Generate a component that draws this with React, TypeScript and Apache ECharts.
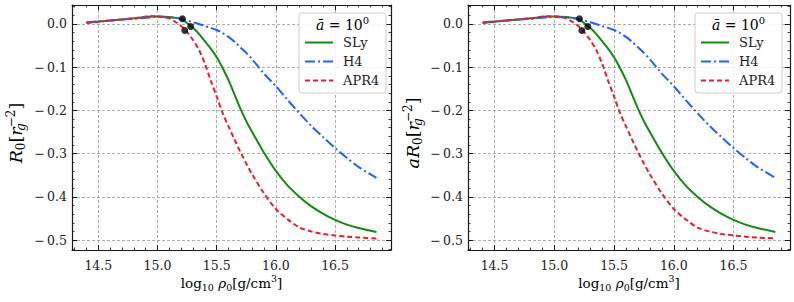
import React, { useEffect, useRef } from 'react';
import * as echarts from 'echarts';

// ---- data ----
const rho = [14.4, 14.6, 14.8, 14.95, 15.0, 15.1, 15.15, 15.2, 15.25, 15.3, 15.35, 15.4, 15.45, 15.5, 15.55, 15.6, 15.65, 15.7, 15.75, 15.8, 15.9, 16.0, 16.1, 16.2, 16.3, 16.4, 16.5, 16.6, 16.7, 16.85];
const slyR0 = [0.003, 0.008, 0.013, 0.017, 0.017, 0.016, 0.014, 0.011, 0.002, -0.009, -0.023, -0.040, -0.057, -0.077, -0.102, -0.130, -0.163, -0.196, -0.225, -0.250, -0.298, -0.340, -0.374, -0.400, -0.422, -0.439, -0.453, -0.464, -0.472, -0.481];
const h4R0 = [0.004, 0.008, 0.012, 0.015, 0.016, 0.015, 0.014, 0.012, 0.008, 0.004, 0.000, -0.005, -0.009, -0.014, -0.021, -0.030, -0.041, -0.054, -0.067, -0.082, -0.115, -0.144, -0.176, -0.207, -0.236, -0.262, -0.287, -0.310, -0.331, -0.356];
const apr4R0 = [0.002, 0.008, 0.013, 0.018, 0.018, 0.013, 0.005, -0.005, -0.019, -0.037, -0.060, -0.092, -0.131, -0.168, -0.206, -0.237, -0.267, -0.296, -0.323, -0.348, -0.392, -0.428, -0.452, -0.471, -0.480, -0.486, -0.489, -0.492, -0.494, -0.496];
const seriesNames = ['SLy', 'H4', 'APR4'];
const seriesValues = [slyR0, h4R0, apr4R0];
const markerRho = [15.28, 15.21, 15.23];
const markerR0 = [-0.006, 0.012, -0.015];
const yLabels = ['R', 'aR'];

const X_MIN = 14.2775;
const X_MAX = 16.9725;
const Y_MIN = -0.5228;
const Y_MAX = 0.0438;

const FONT = '"DejaVu Serif", serif';
const colors = ['#138a13', '#2462ff', '#e8202e'];
const dashes: any[] = ['solid', [10, 3, 2, 3], [5, 3]];
const FRAME = '#1a1a1a';
const TXT = '#222';

const fmtX = (v: number) => {
  const k = Math.round(v * 2);
  if (Math.abs(v * 2 - k) > 1e-6) return '';
  return (k / 2).toFixed(1);
};
const fmtY = (v: number) => {
  const k = Math.round(v * 10);
  if (Math.abs(v * 10 - k) > 1e-6) return '';
  const s = Math.abs(k / 10).toFixed(1);
  return k < 0 ? '\u2212\u2009' + s : s;
};

const makeRich = (fs: number, ss: number) => ({
  n: { fontFamily: FONT, fontSize: fs, lineHeight: fs + 5, color: TXT },
  it: { fontFamily: FONT, fontSize: fs, lineHeight: fs + 5, fontStyle: 'italic', color: TXT },
  sub: { fontFamily: FONT, fontSize: ss, lineHeight: ss + 1.5, verticalAlign: 'bottom', color: TXT },
  subit: { fontFamily: FONT, fontSize: ss, lineHeight: ss + 1.5, verticalAlign: 'bottom', fontStyle: 'italic', color: TXT, width: 0.1 },
  sup: { fontFamily: FONT, fontSize: ss, lineHeight: ss + 1.5, verticalAlign: 'top', color: TXT },
});
const richX = makeRich(13.5, 9.5);
const richY = makeRich(17.5, 12);
const richT = makeRich(14, 10);

export default function App() {
  const ref = useRef<HTMLDivElement>(null);
  useEffect(() => {
    const chart = echarts.init(ref.current!, undefined, { renderer: 'svg' });
    const panels = [
      { left: 72, right: 403, legendLeft: 304, boxX: 299, xLab: 231.5, yLab: 16 },
      { left: 468, right: 4, legendLeft: 700, boxX: 695, xLab: 629, yLab: 413 },
    ];
    const grid: any[] = [];
    const xAxis: any[] = [];
    const yAxis: any[] = [];
    const series: any[] = [];
    const legend: any[] = [];
    const graphic: any[] = [];

    panels.forEach((p, pi) => {
      grid.push({ left: p.left, right: p.right, top: 5, bottom: 52, containLabel: false });
      const major = { show: true, inside: true, length: 5, lineStyle: { color: FRAME, width: 1 } };
      const minor = { show: true, inside: true, length: 2.5, lineStyle: { color: FRAME, width: 0.8 } };
      const line = { show: true, onZero: false, lineStyle: { color: FRAME, width: 1.2 } };
      const noLine = { show: false, onZero: false };
      const common = { type: 'value', gridIndex: pi, min: X_MIN, max: X_MAX };
      xAxis.push({
        ...common, position: 'bottom', splitNumber: 5,
        axisLine: line, axisTick: major,
        axisLabel: { formatter: fmtX, fontFamily: FONT, fontSize: 12.5, color: TXT, margin: 9 },
        splitLine: { show: true, lineStyle: { color: '#999', width: 0.8, type: [3, 2] } },
      });
      xAxis.push({ ...common, position: 'bottom', splitNumber: 27, axisLine: noLine, axisTick: minor, axisLabel: { show: false }, splitLine: { show: false } });
      xAxis.push({ ...common, position: 'top', splitNumber: 5, axisLine: line, axisTick: major, axisLabel: { show: false }, splitLine: { show: false } });
      xAxis.push({ ...common, position: 'top', splitNumber: 27, axisLine: noLine, axisTick: minor, axisLabel: { show: false }, splitLine: { show: false } });

      const ycommon = { type: 'value', gridIndex: pi, min: Y_MIN, max: Y_MAX };
      yAxis.push({
        ...ycommon, position: 'left', splitNumber: 5,
        axisLine: line, axisTick: major,
        axisLabel: { formatter: fmtY, fontFamily: FONT, fontSize: 12.5, color: TXT, margin: 5 },
        splitLine: { show: true, lineStyle: { color: '#999', width: 0.8, type: [3, 2] } },
      });
      yAxis.push({ ...ycommon, position: 'left', splitNumber: 28, axisLine: noLine, axisTick: minor, axisLabel: { show: false }, splitLine: { show: false } });
      yAxis.push({ ...ycommon, position: 'right', splitNumber: 5, axisLine: line, axisTick: major, axisLabel: { show: false }, splitLine: { show: false } });
      yAxis.push({ ...ycommon, position: 'right', splitNumber: 28, axisLine: noLine, axisTick: minor, axisLabel: { show: false }, splitLine: { show: false } });

      seriesNames.forEach((name, si) => {
        series.push({
          type: 'line', name, xAxisIndex: pi * 4, yAxisIndex: pi * 4,
          data: rho.map((x, i) => [x, seriesValues[si][i]]),
          symbol: 'none', smooth: 0.3,
          lineStyle: { color: colors[si], width: 2, type: dashes[si] },
          itemStyle: { color: colors[si] },
          z: 3 + si,
        });
      });
      series.push({
        type: 'scatter', name: 'markers', xAxisIndex: pi * 4, yAxisIndex: pi * 4,
        data: markerRho.map((x, i) => [x, markerR0[i]]),
        symbolSize: 7, itemStyle: { color: '#000' }, z: 10,
      });

      legend.push({
        data: seriesNames, orient: 'vertical', left: p.legendLeft, top: 36, padding: 0,
        itemWidth: 28, itemHeight: 10, itemGap: 6, z: 20,
        itemStyle: { opacity: 0 },
        formatter: (n: string) => `{t|${n}}`,
        textStyle: { fontFamily: FONT, fontSize: 13, color: TXT, rich: { t: { fontFamily: FONT, fontSize: 13, color: TXT, padding: [0, 0, 0, 5] } } },
      });

      graphic.push({
        type: 'rect', z: 15, shape: { x: p.boxX, y: 13, width: 87, height: 80, r: 3 },
        style: { fill: 'rgba(255,255,255,0.85)', stroke: '#cccccc', lineWidth: 1 },
      });
      graphic.push({
        type: 'text', z: 21, x: p.boxX + 43.5, y: 25,
        style: { text: '{it|ā}{n| = 10}{sup|0}', rich: richT, align: 'center', verticalAlign: 'middle' },
      });
      graphic.push({
        type: 'text', z: 21, x: p.xLab, y: 283,
        style: { text: '{n|log}{sub|10}{n| }{it|ρ}{sub|0}{n|[g/cm}{sup|3}{n|]}', rich: richX, align: 'center', verticalAlign: 'middle' },
      });
      graphic.push({
        type: 'text', z: 21, x: p.yLab, y: 133, rotation: Math.PI / 2,
        style: { text: `{it|${yLabels[pi]}}{sub|0}{n|[}{it|r}{subit|g}{sup|\u22122}{n|]}`, rich: richY, align: 'center', verticalAlign: 'middle' },
      });
    });

    chart.setOption({
      animation: false,
      backgroundColor: '#fff',
      grid, xAxis, yAxis, series, legend, graphic,
    });
    return () => chart.dispose();
  }, []);
  return <div ref={ref} style={{ position: 'fixed', left: 0, top: 0, width: 794, height: 302 }} />;
}
